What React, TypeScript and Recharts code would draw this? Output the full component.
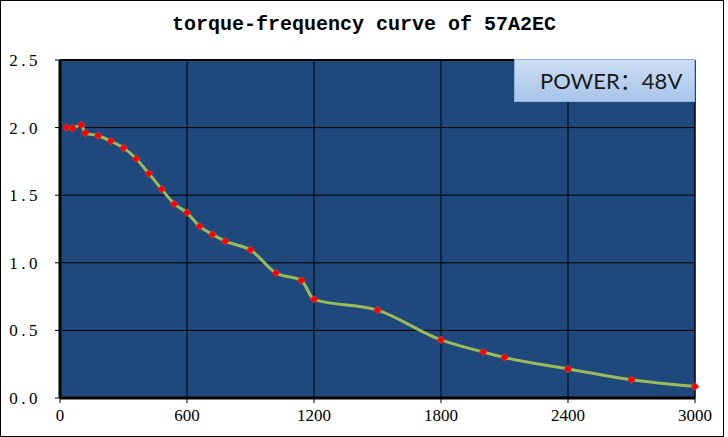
import React from "react";
import {CartesianGrid, Line, LineChart, ReferenceLine, XAxis, YAxis} from "recharts";

// values
const frequency = [30, 60, 100, 120, 180, 240, 300, 360, 420, 480, 540, 600, 660, 720, 780, 900, 1020, 1140, 1200, 1500, 1800, 2000, 2100, 2400, 2700, 3000];
const torque = [2.0, 1.995, 2.02, 1.96, 1.94, 1.9, 1.85, 1.77, 1.66, 1.545, 1.435, 1.37, 1.27, 1.21, 1.16, 1.095, 0.925, 0.87, 0.73, 0.65, 0.43, 0.34, 0.3, 0.215, 0.135, 0.085];
const xTicks = [0, 600, 1200, 1800, 2400, 3000];
const yTicks = [0, 0.5, 1.0, 1.5, 2.0, 2.5];

const chartData = frequency.map((f, i) => ({frequency: f, torque: torque[i]}));

const Diamond = (props: any) => {
    const {cx, cy} = props;
    if (cx == null || cy == null) return null;
    const r = 4;
    return (
        <polygon points={`${cx},${cy - r} ${cx + r},${cy} ${cx},${cy + r} ${cx - r},${cy}`}
                 fill="#FF0000" stroke="#C0504D" strokeWidth={0.6}/>
    );
};

const tickFont = {fill: "#000", fontSize: 17, fontFamily: "Liberation Serif"};

const App: React.FunctionComponent = () => {
    return (
        <div style={{position: "absolute", left: 0, top: 0, width: 728, height: 437}}>
            <div style={{position: "absolute", left: 0, top: 0, width: 722, height: 435, border: "1px solid #000"}}/>
            <div style={{
                position: "absolute", left: 0, top: 13, width: 728, textAlign: "center",
                fontFamily: "Liberation Mono", fontWeight: "bold", fontSize: 20, color: "#000"
            }}>
                torque-frequency curve of 57A2EC
            </div>
            <LineChart width={728} height={437} data={chartData}
                       margin={{top: 60, right: 33, bottom: 0, left: 0}}>
                <CartesianGrid fill="#1F497D" stroke="#000" strokeOpacity={1}/>
                <XAxis dataKey="frequency" type="number" domain={[0, 3000]} ticks={xTicks}
                       height={39} tickSize={5} tickMargin={6}
                       axisLine={{stroke: "#000", strokeWidth: 3}}
                       tickLine={{stroke: "#000"}}
                       tick={tickFont}/>
                <YAxis type="number" domain={[0, 2.5]} ticks={yTicks} width={60}
                       tickSize={5} tickMargin={14}
                       tickFormatter={(v: number) => v.toFixed(1)}
                       axisLine={{stroke: "#000", strokeWidth: 3}}
                       tickLine={{stroke: "#000"}}
                       tick={{...tickFont, letterSpacing: 3.5}}/>
                <ReferenceLine y={2.5} stroke="#000" strokeWidth={2}/>
                <ReferenceLine x={3000} stroke="#000" strokeWidth={1}/>
                <Line dataKey="torque" type="monotone" stroke="#9BBB59" strokeWidth={3}
                      dot={<Diamond/>} activeDot={false} isAnimationActive={false}/>
            </LineChart>
            <div style={{
                position: "absolute", left: 514, top: 59, width: 181, height: 43,
                boxSizing: "border-box", background: "linear-gradient(#CCDDF3, #A8C5EA)",
                border: "1px solid #8DB3E2", fontFamily: "Lato, 'Noto Sans CJK SC'",
                fontSize: 22, color: "#1A1A1A", lineHeight: "41px", paddingLeft: 25
            }}>
                POWER：48V
            </div>
        </div>
    );
};

export default App;
